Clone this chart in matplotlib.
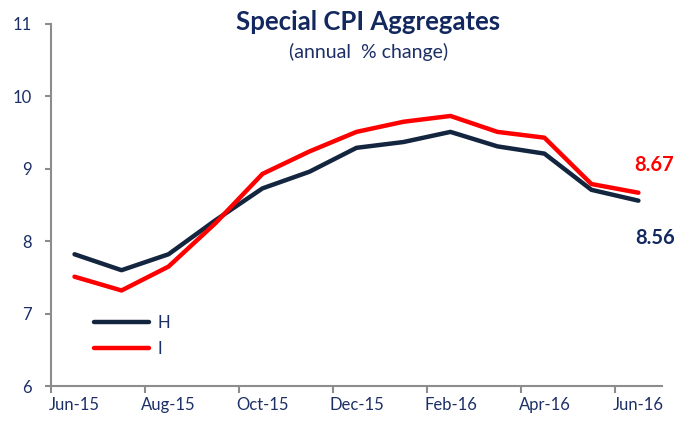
import matplotlib
matplotlib.use("Agg")
import matplotlib.pyplot as plt
from matplotlib.ticker import FixedLocator

months = ["Jun-15", "Jul-15", "Aug-15", "Sep-15", "Oct-15", "Nov-15", "Dec-15",
          "Jan-16", "Feb-16", "Mar-16", "Apr-16", "May-16", "Jun-16"]
series_h = [7.82, 7.60, 7.82, 8.29, 8.73, 8.96, 9.29, 9.37, 9.51, 9.31, 9.21, 8.71, 8.56]
series_i = [7.51, 7.32, 7.65, 8.25, 8.93, 9.24, 9.51, 9.65, 9.73, 9.51, 9.43, 8.79, 8.67]
y_ticks = [6, 7, 8, 9, 10, 11]

navy_line = "#13253f"
red = "#ff0000"
text_navy = "#1c2f66"
axis_gray = "#8c8c8c"

plt.rcParams["font.family"] = ["Lato", "DejaVu Sans"]

fig = plt.figure(figsize=(6.75, 4.21), dpi=100)
ax = fig.add_axes([0.0756, 0.083, 0.905, 0.86])

x = list(range(len(months)))
ax.plot(x, series_h, color=navy_line, lw=3.2, label="H", solid_capstyle="round", solid_joinstyle="round")
ax.plot(x, series_i, color=red, lw=3.2, label="I", solid_capstyle="round", solid_joinstyle="round")

ax.set_xlim(-0.5, len(months) - 0.5)
ax.set_ylim(6, 11)
ax.set_yticks(y_ticks)
ax.set_yticklabels([str(v) for v in y_ticks])

label_pos = x[::2]
ax.set_xticks(label_pos)
ax.set_xticklabels(months[::2])
ax.xaxis.set_minor_locator(FixedLocator([p - 0.5 for p in label_pos]))
ax.tick_params(axis="x", which="major", length=0, pad=8, labelsize=12, labelcolor=text_navy)
ax.tick_params(axis="x", which="minor", length=5, width=1.5, color=axis_gray, direction="out")
ax.tick_params(axis="y", which="major", length=4, width=1.5, color=axis_gray, pad=10,
               labelsize=12, labelcolor=text_navy)

for s in ["top", "right"]:
    ax.spines[s].set_visible(False)
for s in ["left", "bottom"]:
    ax.spines[s].set_color(axis_gray)
    ax.spines[s].set_linewidth(1.5)

leg = ax.legend(loc="upper left", bbox_to_anchor=(0.06, 0.215), frameon=False,
                fontsize=12, handlelength=3.3, handletextpad=0.5, labelspacing=0.6,
                borderaxespad=0)
for t in leg.get_texts():
    t.set_color(text_navy)

ax.annotate(f"{series_i[-1]:.2f}", xy=(x[-1], series_i[-1]), xytext=(11.5, 20),
            textcoords="offset points", ha="center", va="center",
            color=red, fontsize=14.5, fontweight="bold", annotation_clip=False)
ax.annotate(f"{series_h[-1]:.2f}", xy=(x[-1], series_h[-1]), xytext=(12, -27),
            textcoords="offset points", ha="center", va="center",
            color="#13285e", fontsize=14.5, fontweight="bold", annotation_clip=False)

fig.text(0.546, 0.947, "Special CPI Aggregates", ha="center", va="center",
         fontsize=18.5, fontweight="bold", color="#13285e")
fig.text(0.546, 0.876, "(annual  % change)", ha="center", va="center",
         fontsize=14, color=text_navy)

fig.savefig("out.png", dpi=100)
